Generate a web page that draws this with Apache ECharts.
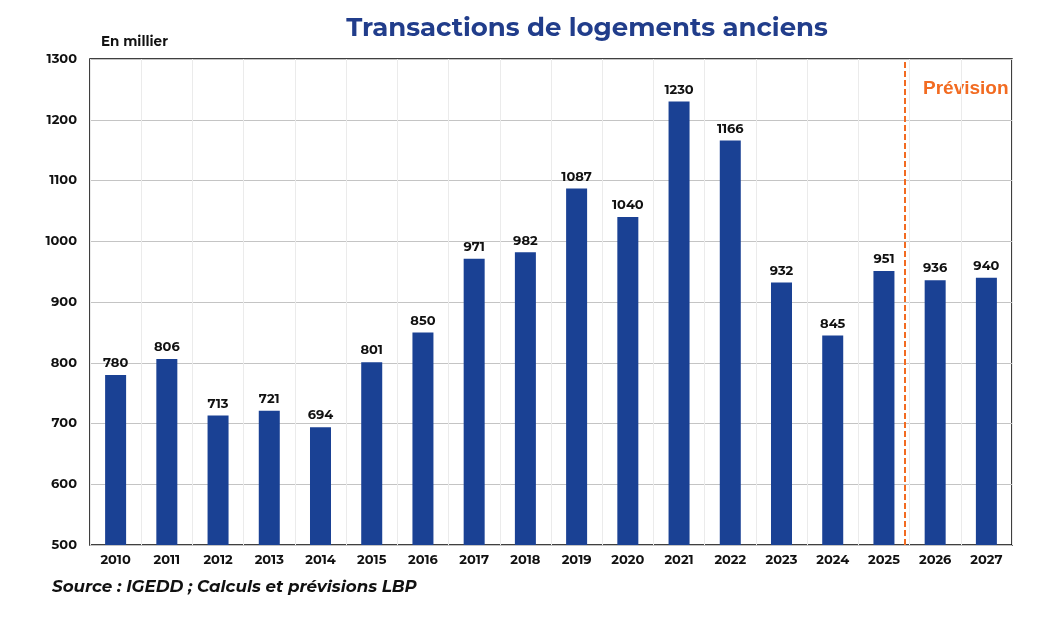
<!DOCTYPE html>
<html>
<head>
<meta charset="utf-8">
<script src="https://cdn.jsdelivr.net/npm/echarts@6/dist/echarts.min.js"></script>
<style>
  html, body { margin: 0; padding: 0; background: #fff; }
  #chart { width: 1055px; height: 625px; }
</style>
</head>
<body>
<div id="chart"></div>
<script>
var years = ['2010','2011','2012','2013','2014','2015','2016','2017','2018','2019','2020','2021','2022','2023','2024','2025','2026','2027'];
var transactions = [780, 806, 713, 721, 694, 801, 850, 971, 982, 1087, 1040, 1230, 1166, 932, 845, 951, 936, 940];
// position of the forecast separator on a 0..18 scale
var forecastAt = [15.9];

var font = 'Montserrat, "Open Sans", Lato, sans-serif';
var myChart = echarts.init(document.getElementById('chart'));
var options = {
    animation: false,
    title: {
        text: 'Transactions de logements anciens',
        left: 582, top: 10, textAlign: 'center',
        textStyle: { fontFamily: font, fontSize: 26, fontWeight: 'bold', color: '#213d8b' }
    },
    grid: { left: 90, top: 59, right: 43, bottom: 80, show: true, borderColor: '#000', borderWidth: 1.5 },
    graphic: [
        { type: 'text', left: 101, top: 35,
          style: { text: 'En millier', fontFamily: font, fontSize: 13.5, fontWeight: 'bold', fill: '#111' } },
        { type: 'text', left: 923, top: 79,
          style: { text: 'Prévision', fontFamily: 'Liberation Sans, Arial, sans-serif', fontSize: 19, fontWeight: 'bold', fill: '#f26b21' } },
        { type: 'text', left: 52, top: 579,
          style: { text: 'Source : IGEDD ; Calculs et prévisions LBP', fontFamily: font, fontSize: 16.7, fontWeight: 'bold', fontStyle: 'italic', fill: '#111' } }
    ],
    xAxis: [{
        type: 'category',
        data: years,
        axisLine: { show: false },
        axisTick: { show: false },
        axisLabel: { fontFamily: font, fontSize: 13, fontWeight: 'bold', color: '#111', margin: 9 },
        splitLine: { show: true, lineStyle: { color: '#ebebeb', width: 1 } }
    }, {
        type: 'value', min: 0, max: 18, show: false
    }],
    yAxis: {
        type: 'value', min: 500, max: 1300, interval: 100,
        axisLine: { show: false },
        axisTick: { show: false },
        axisLabel: { fontFamily: font, fontSize: 13, fontWeight: 'bold', color: '#111', margin: 13,
                     formatter: function (v) { return String(v); } },
        splitLine: { lineStyle: { color: '#c4c4c4', width: 1 } }
    },
    series: [{
        type: 'bar',
        data: transactions,
        barWidth: '41%',
        itemStyle: { color: '#1a4194' },
        label: { show: true, position: 'top', distance: 5, fontFamily: font, fontSize: 13, fontWeight: 'bold', color: '#111' }
    }, {
        type: 'line',
        xAxisIndex: 1,
        data: [],
        markLine: {
            symbol: 'none',
            silent: true,
            label: { show: false },
            lineStyle: { color: '#f26b21', type: [6, 3], width: 2 },
            data: forecastAt.map(function (v) { return { xAxis: v }; })
        }
    }]
};
myChart.setOption(options);
</script>
</body>
</html>
